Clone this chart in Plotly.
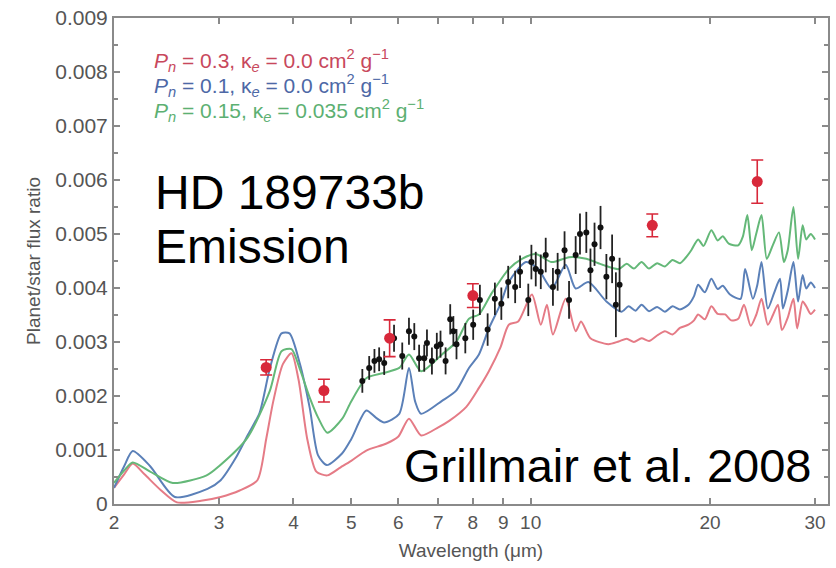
import plotly.graph_objects as go

# ---------------- data ----------------
red_x = [2.0, 2.08, 2.15, 2.25, 2.4, 2.55, 2.8, 3.02, 3.25, 3.48, 3.6, 3.70, 3.84, 3.97, 4.08,
         4.22, 4.37, 4.56, 4.8, 5.0, 5.3, 5.73, 6.0, 6.25, 6.55, 7.0, 7.3, 7.8, 8.19, 8.51, 8.9,
         9.19, 9.53, 10.05, 10.4, 10.65, 10.9, 11.45, 11.9, 12.15, 12.6, 13.5, 14.05, 14.5, 14.9,
         15.35, 15.8, 16.3, 16.8, 17.3, 17.8, 18.4, 18.8, 19.1, 19.6, 20.1, 20.6, 21.2, 21.7, 22.3,
         22.8, 23.4, 23.9, 24.4, 25.0, 25.5, 26.0, 26.4, 27.0, 27.6, 28.0, 28.6, 29.0, 29.5, 30.0]
red_y = [0.00030, 0.00055, 0.00075, 0.00055, 0.00025, 0.00003, 0.00006, 0.00013, 0.00025, 0.00044,
         0.00120, 0.00190, 0.00259, 0.00279, 0.00230, 0.00120, 0.00060, 0.00053, 0.00068, 0.00080,
         0.00099, 0.00112, 0.00125, 0.00158, 0.00127, 0.00142, 0.00154, 0.00180, 0.00215, 0.00246,
         0.00290, 0.00332, 0.00338, 0.00388, 0.00332, 0.00369, 0.00314, 0.00380, 0.00320, 0.00338,
         0.00307, 0.00296, 0.00301, 0.00306, 0.00300, 0.00307, 0.00302, 0.00312, 0.00320, 0.00314,
         0.00326, 0.00332, 0.00340, 0.00351, 0.00342, 0.00366, 0.00352, 0.00351, 0.00340, 0.00343,
         0.00369, 0.00330, 0.00350, 0.00380, 0.00332, 0.00350, 0.00369, 0.00322, 0.00345, 0.00380,
         0.00325, 0.00375, 0.00366, 0.00352, 0.00360]

blue_x = [2.0, 2.08, 2.15, 2.3, 2.53, 2.87, 3.02, 3.2, 3.35, 3.51, 3.65, 3.82, 3.94, 4.1, 4.26,
          4.4, 4.55, 4.83, 5.0, 5.30, 5.5, 5.68, 6.02, 6.25, 6.4, 6.55, 7.1, 7.5, 7.88, 8.19, 8.51,
          8.9, 9.19, 9.82, 10.3, 10.85, 11.45, 11.9, 12.5, 13.4, 14.2, 14.6, 15.0, 15.35, 15.8,
          16.3, 16.8, 17.3, 17.8, 18.4, 18.8, 19.1, 19.6, 20.1, 20.6, 21.0, 21.6, 22.5, 22.9,
          23.6, 24.0, 24.4, 25.0, 25.6, 26.2, 26.5, 27.0, 27.6, 28.1, 28.6, 29.0, 29.5, 30.0]
blue_y = [0.00030, 0.00070, 0.00098, 0.00070, 0.00013, 0.00028, 0.00044, 0.00085, 0.00127, 0.00169,
          0.00250, 0.00316, 0.00316, 0.00260, 0.00178, 0.00090, 0.00072, 0.00094, 0.00120, 0.00173,
          0.00160, 0.00151, 0.00167, 0.00252, 0.00190, 0.00167, 0.00191, 0.00210, 0.00252, 0.00277,
          0.00325, 0.00370, 0.00411, 0.00448, 0.00435, 0.00399, 0.00443, 0.00399, 0.00411, 0.00375,
          0.00356, 0.00366, 0.00358, 0.00369, 0.00357, 0.00365, 0.00356, 0.00366, 0.00360, 0.00369,
          0.00385, 0.00406, 0.00392, 0.00417, 0.00398, 0.00404, 0.00388, 0.00380, 0.00435, 0.00380,
          0.00405, 0.00448, 0.00362, 0.00390, 0.00417, 0.00362, 0.00395, 0.00448, 0.00375, 0.00424,
          0.00399, 0.00410, 0.00400]

green_x = [2.0, 2.08, 2.15, 2.3, 2.51, 2.86, 3.0, 3.35, 3.65, 3.82, 3.97, 4.1, 4.26, 4.4, 4.56,
           4.83, 5.0, 5.30, 5.68, 6.02, 6.25, 6.55, 7.10, 7.5, 7.88, 8.19, 8.6, 9.19, 9.67, 10.2,
           10.85, 11.6, 12.4, 13.2, 14.05, 14.5, 14.9, 15.35, 15.8, 16.3, 16.8, 17.3, 17.8, 18.2,
           18.6, 19.1, 19.5, 20.1, 20.6, 21.0, 21.5, 22.3, 22.7, 23.1, 23.5, 23.9, 24.4, 24.9,
           25.5, 26.1, 26.6, 27.0, 27.6, 28.1, 28.6, 29.0, 29.5, 30.0]
green_y = [0.00039, 0.00062, 0.00077, 0.00060, 0.00039, 0.00053, 0.00070, 0.00123, 0.00209, 0.00283,
           0.00287, 0.00250, 0.00197, 0.00160, 0.00132, 0.00158, 0.00190, 0.00233, 0.00243, 0.00252,
           0.00277, 0.00246, 0.00277, 0.00300, 0.00343, 0.00351, 0.00390, 0.00435, 0.00454, 0.00463,
           0.00448, 0.00457, 0.00454, 0.00443, 0.00435, 0.00445, 0.00436, 0.00448, 0.00436, 0.00446,
           0.00440, 0.00452, 0.00446, 0.00456, 0.00470, 0.00490, 0.00478, 0.00507, 0.00488, 0.00496,
           0.00482, 0.00479, 0.00495, 0.00535, 0.00470, 0.00500, 0.00535, 0.00454, 0.00480, 0.00503,
           0.00448, 0.00470, 0.00550, 0.00454, 0.00516, 0.00490, 0.00500, 0.00490]

phot_x = [3.6, 4.5, 5.8, 8.0, 16.0, 24.0]
phot_y = [0.00253, 0.00210, 0.00307, 0.00386, 0.00516, 0.00597]
phot_err = [0.00014, 0.00021, 0.00034, 0.00022, 0.00021, 0.00040]

irs_x = [5.22, 5.36, 5.47, 5.57, 5.68, 5.90, 6.09, 6.25, 6.38, 6.50, 6.63, 6.70, 6.83, 6.96,
         7.06, 7.20, 7.33, 7.42, 7.51, 7.77, 8.01, 8.22, 8.47, 8.71, 8.93, 9.17, 9.42, 9.60,
         9.91, 10.03, 10.2, 10.4, 10.6, 10.9, 11.1, 11.4, 11.6, 11.9, 12.1, 12.4, 12.6, 12.8,
         13.1, 13.4, 13.7, 13.9, 14.1]
irs_y = [0.00228, 0.00252, 0.00265, 0.00268, 0.00261, 0.00307, 0.00274, 0.00320, 0.00310, 0.00270,
         0.00270, 0.00298, 0.00265, 0.00292, 0.00296, 0.00265, 0.00342, 0.00320, 0.00296, 0.00307,
         0.00332, 0.00378, 0.00323, 0.00380, 0.00371, 0.00411, 0.00402, 0.00430, 0.00378, 0.00448,
         0.00435, 0.00430, 0.00461, 0.00402, 0.00430, 0.00470, 0.00378, 0.00461, 0.00500, 0.00503,
         0.00433, 0.00481, 0.00512, 0.00421, 0.00454, 0.00369, 0.00406]
irs_err = [0.00022, 0.00022, 0.00022, 0.00022, 0.00022, 0.00025, 0.00025, 0.00025, 0.00025, 0.00025,
           0.00025, 0.00025, 0.00025, 0.00025, 0.00025, 0.00025, 0.00028, 0.00028, 0.00028, 0.00028,
           0.00028, 0.00028, 0.00030, 0.00030, 0.00030, 0.00030, 0.00030, 0.00030, 0.00030, 0.00032,
           0.00032, 0.00032, 0.00032, 0.00035, 0.00035, 0.00035, 0.00035, 0.00035, 0.00038, 0.00038,
           0.00040, 0.00040, 0.00040, 0.00042, 0.00045, 0.00060, 0.00050]

x_ticks = [2, 3, 4, 5, 6, 7, 8, 9, 10, 20, 30]
y_ticks = [0, 0.001, 0.002, 0.003, 0.004, 0.005, 0.006, 0.007, 0.008, 0.009]
y_tick_text = ["0", "0.001", "0.002", "0.003", "0.004", "0.005", "0.006", "0.007", "0.008", "0.009"]

legend_texts = [
    "<i>P</i><sub><i>n</i></sub> = 0.3, κ<sub><i>e</i></sub> = 0.0 cm<sup>2</sup> g<sup>−1</sup>",
    "<i>P</i><sub><i>n</i></sub> = 0.1, κ<sub><i>e</i></sub> = 0.0 cm<sup>2</sup> g<sup>−1</sup>",
    "<i>P</i><sub><i>n</i></sub> = 0.15, κ<sub><i>e</i></sub> = 0.035 cm<sup>2</sup> g<sup>−1</sup>",
]
legend_colors = ["#c8485c", "#4d68a6", "#5cb072"]

RED = "#e57b86"
BLUE = "#5b80b8"
GREEN = "#64b878"
AXIS = "#8a8a8a"
TXT = "#555555"
FONT = "Liberation Sans, Arial"

fig = go.Figure()
for xs, ys, col in [(red_x, red_y, RED), (blue_x, blue_y, BLUE), (green_x, green_y, GREEN)]:
    fig.add_trace(go.Scatter(x=xs, y=ys, mode="lines",
                             line=dict(color=col, width=2, shape="spline", smoothing=0.7)))
fig.add_trace(go.Scatter(x=irs_x, y=irs_y, mode="markers",
                         marker=dict(color="#111111", size=6),
                         error_y=dict(type="data", array=irs_err, color="#222222",
                                      thickness=1.8, width=0)))
fig.add_trace(go.Scatter(x=phot_x, y=phot_y, mode="markers",
                         marker=dict(color="#d8283a", size=11),
                         error_y=dict(type="data", array=phot_err, color="#d8283a",
                                      thickness=1.6, width=6)))

annotations = []
for i, (t, c) in enumerate(zip(legend_texts, legend_colors)):
    annotations.append(dict(text=t, xref="paper", yref="paper", x=0.053, y=0.912 - i * 0.051,
                            xanchor="left", yanchor="middle", showarrow=False,
                            font=dict(family=FONT, size=21, color=c)))
annotations.append(dict(text="HD 189733b", xref="paper", yref="paper", x=0.055, y=0.641,
                        xanchor="left", yanchor="middle", showarrow=False,
                        font=dict(family=FONT, size=48, color="#000000")))
annotations.append(dict(text="Emission", xref="paper", yref="paper", x=0.055, y=0.529,
                        xanchor="left", yanchor="middle", showarrow=False,
                        font=dict(family=FONT, size=48, color="#000000")))
annotations.append(dict(text="Grillmair et al. 2008", xref="paper", yref="paper", x=0.981, y=0.080,
                        xanchor="right", yanchor="middle", showarrow=False,
                        font=dict(family=FONT, size=47, color="#000000")))

fig.update_layout(
    width=836, height=568,
    margin=dict(l=114, r=6, t=14, b=64),
    paper_bgcolor="white", plot_bgcolor="white",
    showlegend=False,
    font=dict(family=FONT, color=TXT),
    annotations=annotations,
)
fig.update_xaxes(type="log", range=[0.30103, 1.4989],
                 tickvals=x_ticks, ticktext=[str(v) for v in x_ticks],
                 ticks="inside", ticklen=6, tickwidth=1.5, tickcolor=AXIS,
                 showline=True, linecolor=AXIS, linewidth=2, mirror="ticks",
                 showgrid=False, zeroline=False,
                 tickfont=dict(size=19, color=TXT),
                 title=dict(text="Wavelength (μm)", font=dict(size=19, color=TXT), standoff=12))
fig.update_yaxes(range=[0, 0.009],
                 tickvals=y_ticks, ticktext=y_tick_text,
                 ticks="inside", ticklen=6, tickwidth=1.5, tickcolor=AXIS,
                 minor=dict(ticks="inside", dtick=0.0005, tick0=0, ticklen=4, tickcolor=AXIS, showgrid=False),
                 showline=True, linecolor=AXIS, linewidth=2, mirror="ticks",
                 showgrid=False, zeroline=False,
                 tickfont=dict(size=21, color=TXT),
                 title=dict(text="Planet/star flux ratio", font=dict(size=19, color=TXT), standoff=10))

fig.write_html("out.html")
